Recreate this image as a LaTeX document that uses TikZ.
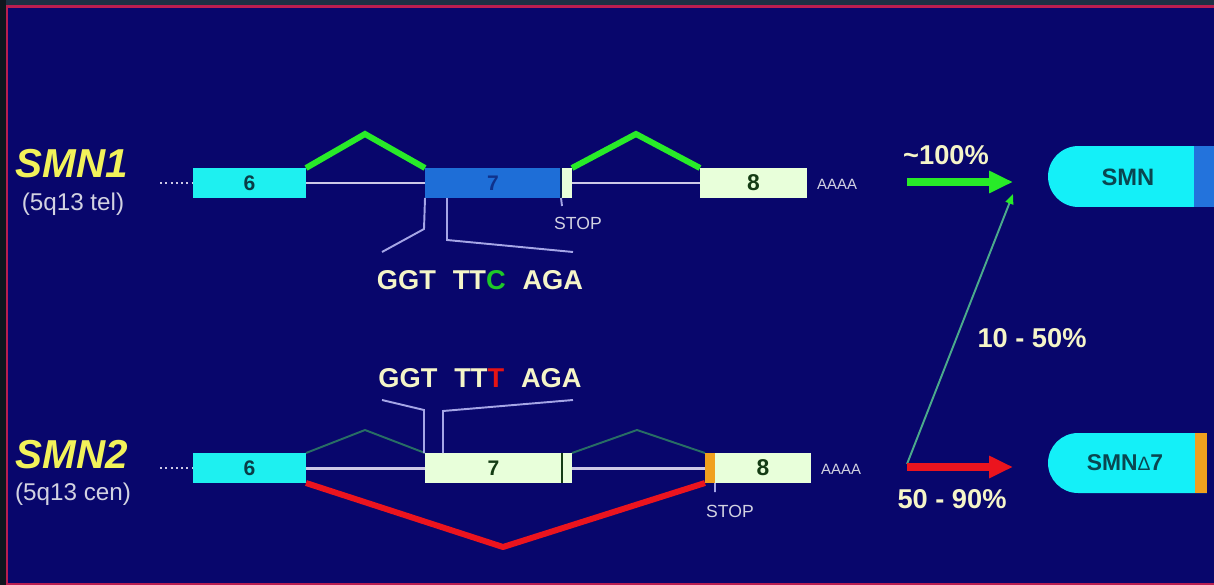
\documentclass[tikz,border=0pt]{standalone}
\usepackage{fontspec}
\setmainfont{Liberation Sans}
\usetikzlibrary{arrows.meta,calc,shapes.misc}

\definecolor{bg}{RGB}{8,6,108}
\definecolor{topband}{RGB}{28,48,68}
\definecolor{leftband}{RGB}{14,22,30}
\definecolor{framered}{RGB}{185,30,80}
\definecolor{exoncyan}{RGB}{30,240,240}
\definecolor{exonblue}{RGB}{30,110,215}
\definecolor{exonpale}{RGB}{232,255,218}
\definecolor{exonorange}{RGB}{240,160,30}
\definecolor{splicegreen}{RGB}{40,235,40}
\definecolor{splicered}{RGB}{235,20,30}
\definecolor{faintgreen}{RGB}{40,110,100}
\definecolor{introngray}{RGB}{205,200,230}
\definecolor{bracketline}{RGB}{165,165,230}
\definecolor{labelyellow}{RGB}{242,242,90}
\definecolor{paletext}{RGB}{245,245,200}
\definecolor{graytext}{RGB}{210,210,225}
\definecolor{numteal}{RGB}{10,60,70}
\definecolor{numblue}{RGB}{15,50,140}
\definecolor{numgreen}{RGB}{20,60,20}
\definecolor{protcyan}{RGB}{20,240,248}
\definecolor{protblue}{RGB}{35,115,220}
\definecolor{prottext}{RGB}{10,70,80}
\definecolor{seqgreen}{RGB}{30,200,40}
\definecolor{seqred}{RGB}{230,20,20}
\definecolor{thinarrow}{RGB}{75,170,140}

\tikzset{
  exon/.style={rectangle, inner sep=0pt, outer sep=0pt, minimum height=0.6cm,
    font=\fontsize{12}{14}\selectfont\bfseries},
  intron/.style={draw=introngray, line width=1.7pt},
  dots/.style={draw=introngray, line width=1.2pt, dash pattern=on 1.2pt off 1.8pt},
  splice/.style={draw=splicegreen, line width=3.4pt, line join=miter},
  skip/.style={draw=splicered, line width=3.4pt, line join=round},
  faint/.style={draw=faintgreen, line width=1.1pt},
  bracket/.style={draw=bracketline, line width=1.1pt},
  genename/.style={font=\fontsize{23}{27}\selectfont\bfseries\itshape, text=labelyellow},
  locus/.style={font=\fontsize{13.8}{16}\selectfont, text=graytext},
  seq/.style={font=\fontsize{15.5}{18}\selectfont\bfseries, text=paletext},
  pct/.style={font=\fontsize{15.5}{18}\selectfont\bfseries, text=paletext},
  small/.style={font=\fontsize{10}{12}\selectfont, text=graytext},
  polya/.style={font=\fontsize{8.5}{10}\selectfont, text=graytext},
  protein/.style={rounded rectangle, rounded rectangle east arc=none,
    inner sep=0pt, outer sep=0pt, fill=protcyan, text=prottext,
    font=\fontsize{13.5}{16}\selectfont\bfseries},
  fatarrow/.style={line width=4.5pt,
    -{Triangle[length=0.48cm, width=0.42cm]}},
}

\newcommand{\gap}{\hspace{9.6pt}}

\begin{document}
\begin{tikzpicture}[x=0.02cm, y=-0.02cm]
\useasboundingbox (0,0) rectangle (1214,585);

% background and frame
\fill[bg] (0,0) rectangle (1214,585);
\fill[topband] (0,0) rectangle (1214,5.5);
\fill[leftband] (0,0) rectangle (6,585);
\draw[framered, line width=1.2pt] (1214,6.5) -- (7,6.5) -- (7,584) -- (1214,584);

% ---------- SMN1 ----------
\node[genename] (smn1) at (72,164) {SMN1};
\node[locus] (tel) at (73,204) {(5q13 tel)};

\node[exon, fill=exoncyan, text=numteal, minimum width=2.26cm] (e6a) at (249.5,183) {6};
\node[exon, fill=exonblue, text=numblue, minimum width=2.72cm] (e7a) at (493,183) {7};
\node[exon, fill=exonpale, minimum width=0.22cm] (t7a) at (566.5,183) {};
\node[exon, fill=exonpale, text=numgreen, minimum width=2.14cm,
      font=\fontsize{13}{15}\selectfont\bfseries] (e8a) at (753.5,183) {8};
\draw[numblue!60!black, line width=0.6pt] (t7a.north west) -- (t7a.south west);

\coordinate (d1) at (160,183);
\draw[dots] (d1) -- (e6a.west);
\draw[intron] (e6a.east) -- (e7a.west);
\draw[intron] (t7a.east) -- (e8a.west);
\node[polya, anchor=west] (pa1) at (811,184) {AAAA};

\draw[splice] (e6a.north east) -- (365,134) -- (e7a.north west);
\draw[splice] (t7a.north east) -- (636,134) -- (e8a.north west);

\coordinate (stop1) at (562,206);
\draw[bracket] (t7a.south west) -- (stop1);
\node[small] (stoptxt1) at (578,223) {STOP};

% codon bracket below exon 7
\coordinate (b1a) at (424,229);
\coordinate (b1b) at (382,252);
\coordinate (b1c) at (447,240);
\coordinate (b1d) at (573,252);
\draw[bracket] (e7a.south west) -- (b1a) -- (b1b);
\draw[bracket] (e7a.south west -| b1c) -- (b1c) -- (b1d);
\node[seq] (seq1) at (480,280) {GGT\gap TT\textcolor{seqgreen}{C}\gap AGA};

% ---------- SMN2 ----------
\node[genename] (smn2) at (72,455) {SMN2};
\node[locus] (cen) at (73,494) {(5q13 cen)};

\node[exon, fill=exoncyan, text=numteal, minimum width=2.26cm] (e6b) at (249.5,468) {6};
\node[exon, fill=exonpale, text=numgreen, minimum width=2.74cm] (e7b) at (493.5,468) {7};
\node[exon, fill=exonpale, minimum width=0.2cm] (t7b) at (567,468) {};
\node[exon, fill=exonorange, minimum width=0.2cm] (ob) at (710,468) {};
\node[exon, fill=exonpale, text=numgreen, minimum width=1.92cm,
      font=\fontsize{13}{15}\selectfont\bfseries] (e8b) at (763,468) {8};
\draw[numgreen, line width=0.8pt] (t7b.north west) -- (t7b.south west);

\coordinate (d2) at (160,468);
\draw[dots] (d2) -- (e6b.west);
\draw[intron] (e6b.east) -- (e7b.west);
\draw[intron] (t7b.east) -- (ob.west);
\node[polya, anchor=west] (pa2) at (815,469) {AAAA};

\draw[faint] (e6b.north east) -- (365,430) -- (e7b.north west);
\draw[faint] (t7b.north east) -- (637,430) -- (ob.north west);
\draw[skip] (e6b.south east) -- (503,547) -- (ob.south west);

\coordinate (stop2) at (715,492);
\draw[bracket] (ob.south east) -- (stop2);
\node[small] (stoptxt2) at (730,511) {STOP};

% codon bracket above exon 7
\coordinate (b2a) at (424,410);
\coordinate (b2b) at (382,400);
\coordinate (b2c) at (443,411);
\coordinate (b2d) at (573,400);
\draw[bracket] (e7b.north west -| b2a) -- (b2a) -- (b2b);
\draw[bracket] (e7b.north west -| b2c) -- (b2c) -- (b2d);
\node[seq] (seq2) at (480,378) {GGT\gap TT\textcolor{seqred}{T}\gap AGA};

% ---------- products ----------
\node[protein, minimum width=3.32cm, minimum height=1.22cm] (smn) at (1131,176.5) {};
\fill[protblue] ($(smn.north east)+(-20,0)$) rectangle (smn.south east);
\node[text=prottext, font=\fontsize{13.5}{16}\selectfont\bfseries] (smnlbl) at (1128,177) {SMN};

\node[protein, minimum width=3.18cm, minimum height=1.2cm] (smnd) at (1127.5,463) {};
\fill[exonorange] ($(smnd.north east)+(-12,0)$) rectangle (smnd.south east);
\node[text=prottext, font=\fontsize{13}{16}\selectfont\bfseries] (smndlbl) at (1125,463)
  {SMN{\fontsize{11}{13}\selectfont\mdseries\symbol{"0394}}7};

\coordinate (ga1) at (907,182);
\coordinate (ga2) at (1013,182);
\coordinate (ra1) at (907,467);
\coordinate (ra2) at (1013,467);
\coordinate (ta1) at (907,464);
\coordinate (ta2) at (1013,194);

\draw[thinarrow, line width=1.1pt,
  -{Triangle[length=0.2cm, width=0.16cm, fill=splicegreen, color=splicegreen]}] (ta1) -- (ta2);
\draw[splicegreen, fatarrow] (ga1) -- (ga2);
\draw[splicered, fatarrow] (ra1) -- (ra2);

\node[pct] (p100) at (946,155) {\textasciitilde100\%};
\node[pct] (p1050) at (1032,338) {10 - 50\%};
\node[pct] (p5090) at (952,499) {50 - 90\%};
\end{tikzpicture}
\end{document}
